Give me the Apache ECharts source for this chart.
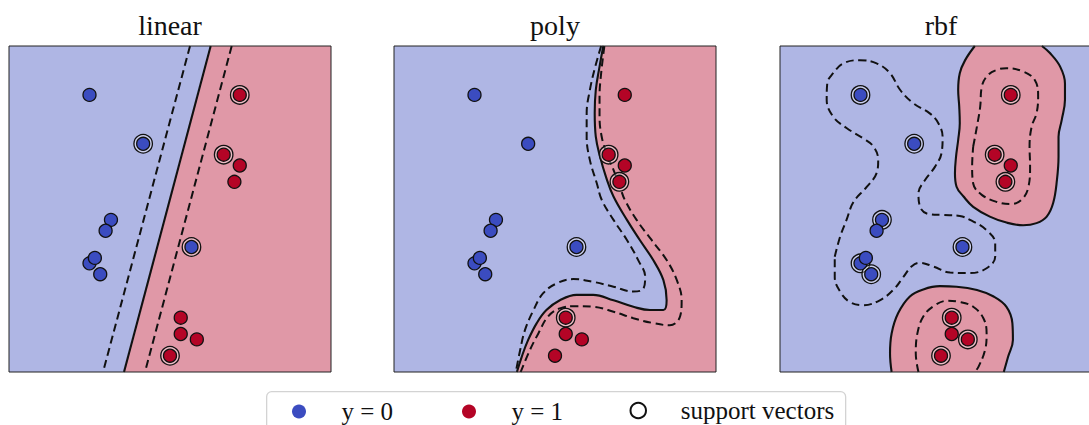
<!DOCTYPE html>
<html>
<head>
<meta charset="utf-8">
<script src="https://cdn.jsdelivr.net/npm/echarts@6/dist/echarts.min.js"></script>
<style>
html,body{margin:0;padding:0;background:#fff;}
#chart{width:1089px;height:425px;}
</style>
</head>
<body>
<div id="chart"></div>
<script>
// ---------- data ----------
const kernels = ['linear', 'poly', 'rbf'];
const class0 = [[0.4,-0.7],[-1.5,-1.0],[-1.4,-0.9],[-1.3,-1.2],[-1.1,-0.2],[-1.2,-0.4],[-0.5,1.2],[-1.5,2.1]];
const class1 = [[1.0,1.0],[1.3,0.8],[1.2,0.5],[0.2,-2.0],[0.5,-2.4],[0.2,-2.3],[0.0,-2.7],[1.3,2.1]];
const svLinear = [[-0.5,1.2],[0.4,-0.7],[1.3,2.1],[1.0,1.0],[0.0,-2.7]];
const svPoly = [[0.4,-0.7],[1.0,1.0],[1.2,0.5],[0.2,-2.0]];
const svRbf = [[-1.5,2.1],[-0.5,1.2],[-1.1,-0.2],[-1.5,-1.0],[-1.3,-1.2],[0.4,-0.7],
               [1.3,2.1],[1.0,1.0],[1.2,0.5],[0.2,-2.0],[0.5,-2.4],[0.0,-2.7]];

// decision function = 0 (solid) and = -1 / +1 (dashed)
const linSolid = [[0.758,3],[-0.857,-3]];
const linDashA = [[0.373,3],[-1.248,-3]];
const linDashB = [[1.150,3],[-0.466,-3]];

const polySolid = [[0.90,3.00],[0.83,2.62],[0.76,2.19],[0.74,1.76],[0.76,1.33],[0.84,0.96],[0.95,0.59],[1.09,0.23],[1.34,-0.20],[1.58,-0.57],[1.83,-0.94],[2.02,-1.31],[2.08,-1.68],[2.02,-1.86],[1.77,-1.86],[1.46,-1.80],[1.09,-1.68],[0.71,-1.58],[0.40,-1.58],[0.09,-1.68],[-0.16,-1.86],[-0.34,-2.10],[-0.50,-2.41],[-0.62,-2.72],[-0.71,-3.00]];
const polyDashA = [[0.86,3.00],[0.75,2.62],[0.65,2.19],[0.59,1.76],[0.59,1.33],[0.65,0.90],[0.78,0.47],[0.87,0.17],[1.09,-0.20],[1.34,-0.57],[1.55,-0.94],[1.68,-1.25],[1.65,-1.46],[1.46,-1.52],[1.09,-1.43],[0.71,-1.34],[0.34,-1.29],[0.03,-1.37],[-0.22,-1.55],[-0.40,-1.86],[-0.56,-2.23],[-0.65,-2.60],[-0.73,-3.00]];
const polyDashB = [[0.92,3.00],[0.86,2.50],[0.83,2.07],[0.83,1.70],[0.87,1.33],[0.96,1.03],[1.09,0.72],[1.21,0.41],[1.30,0.17],[1.52,-0.20],[1.80,-0.57],[2.08,-0.94],[2.27,-1.31],[2.36,-1.68],[2.33,-1.98],[2.14,-2.14],[1.83,-2.10],[1.46,-2.01],[1.09,-1.89],[0.71,-1.80],[0.40,-1.79],[0.09,-1.83],[-0.13,-1.98],[-0.31,-2.29],[-0.47,-2.60],[-0.64,-3.00]];

const rbfTopSolid = [[0.63,3.00],[0.45,2.74],[0.35,2.50],[0.32,2.19],[0.34,1.88],[0.35,1.58],[0.32,1.27],[0.28,0.96],[0.26,0.66],[0.29,0.41],[0.42,0.23],[0.60,0.04],[0.91,-0.14],[1.22,-0.25],[1.53,-0.30],[1.78,-0.26],[1.97,-0.14],[2.09,0.11],[2.16,0.53],[2.19,0.96],[2.19,1.33],[2.25,1.64],[2.31,2.01],[2.31,2.31],[2.22,2.62],[2.03,2.87],[1.88,3.00]];
const rbfTopDash = [[0.60,1.15],[0.67,1.52],[0.73,1.88],[0.76,2.25],[0.88,2.47],[1.07,2.57],[1.22,2.59],[1.53,2.53],[1.75,2.37],[1.81,2.07],[1.78,1.76],[1.69,1.52],[1.65,1.15],[1.66,0.78],[1.63,0.41],[1.50,0.17],[1.29,0.09],[1.04,0.13],[0.76,0.26],[0.60,0.47],[0.58,0.78],[0.60,1.15]];
const rbfBotSolid = [[-0.92,-3.00],[-0.95,-2.66],[-0.92,-2.29],[-0.80,-1.92],[-0.58,-1.61],[-0.33,-1.48],[-0.02,-1.42],[0.29,-1.43],[0.67,-1.49],[0.98,-1.61],[1.22,-1.80],[1.33,-2.10],[1.34,-2.41],[1.25,-2.72],[1.17,-3.00]];
const rbfBotDash = [[-0.42,-3.00],[-0.47,-2.66],[-0.44,-2.29],[-0.33,-1.98],[-0.14,-1.79],[0.11,-1.69],[0.35,-1.71],[0.60,-1.80],[0.79,-2.01],[0.85,-2.29],[0.82,-2.60],[0.70,-2.90],[0.63,-3.00]];
const rbfBlueDash = [[-1.98,-0.88],[-1.88,-0.51],[-1.76,-0.20],[-1.63,0.13],[-1.38,0.41],[-1.20,0.66],[-1.17,0.90],[-1.26,1.15],[-1.45,1.30],[-1.76,1.49],[-2.01,1.70],[-2.13,2.01],[-2.12,2.31],[-2.01,2.50],[-1.82,2.68],[-1.51,2.74],[-1.20,2.68],[-0.95,2.50],[-0.76,2.19],[-0.52,1.95],[-0.21,1.76],[-0.05,1.58],[0.03,1.33],[0.01,1.03],[-0.11,0.78],[-0.30,0.53],[-0.42,0.29],[-0.39,0.04],[-0.24,-0.09],[0.04,-0.11],[0.35,-0.13],[0.54,-0.20],[0.85,-0.39],[1.01,-0.63],[1.01,-0.88],[0.85,-1.09],[0.54,-1.18],[0.17,-1.17],[-0.14,-1.06],[-0.39,-0.99],[-0.55,-1.06],[-0.70,-1.25],[-0.89,-1.49],[-1.14,-1.68],[-1.45,-1.77],[-1.70,-1.71],[-1.88,-1.52],[-1.98,-1.25],[-1.98,-0.88]];

// ---------- style ----------
const FONT = "'Liberation Serif','DejaVu Serif',serif";
const BLUE = '#3B4CC0', RED = '#B40426';
const BG_BLUE = '#AFB6E4', BG_RED = '#E098A7';
const gridLefts = [9, 394, 780];
const SMOOTH = 0.4;

const fullSquare = [[-3,-3],[3,-3],[3,3],[-3,3]];
const redRegions = [
  [[...linSolid, [3,-3], [3,3]]],
  [[...polySolid, [-0.78,-3.4], [3.4,-3.4], [3.4,3.4], [0.95,3.4]]],
  [[...rbfTopSolid, [1.95,3.4], [0.6,3.4]], [...rbfBotSolid, [1.2,-3.4], [-0.93,-3.4]]]
];
const solidLines = [[linSolid], [polySolid], [rbfTopSolid, rbfBotSolid]];
const dashLines = [[linDashA, linDashB], [polyDashA, polyDashB], [rbfTopDash, rbfBotDash, rbfBlueDash]];
const svSets = [svLinear, svPoly, svRbf];

function polyRender(pts, color, smooth) {
  return function (params, api) {
    if (params.dataIndex !== 0) return null;
    const points = pts.map(p => api.coord(p));
    return { type: 'polygon', shape: { points: points, smooth: smooth }, style: { fill: color }, silent: true };
  };
}

const grids = [], xAxes = [], yAxes = [], series = [], titles = [];
kernels.forEach((k, i) => {
  grids.push({ left: gridLefts[i], top: 46, width: 322, height: 326, show: true,
    outerBoundsMode: 'none', containLabel: false,
    backgroundColor: 'rgba(0,0,0,0)', borderColor: '#222', borderWidth: 1, z: 10 });
  xAxes.push({ type: 'value', gridIndex: i, min: -3, max: 3, show: false });
  yAxes.push({ type: 'value', gridIndex: i, min: -3, max: 3, show: false });
  titles.push({ text: k, left: gridLefts[i] + 161, top: 11, textAlign: 'center', padding: 0,
    textStyle: { fontFamily: FONT, fontSize: 28, fontWeight: 'normal', color: '#111' } });

  series.push({ type: 'custom', xAxisIndex: i, yAxisIndex: i, data: fullSquare, clip: true, z: 1, silent: true,
    renderItem: polyRender(fullSquare, BG_BLUE, 0) });
  redRegions[i].forEach(reg => {
    series.push({ type: 'custom', xAxisIndex: i, yAxisIndex: i, data: reg, clip: true, z: 1.5, silent: true,
      renderItem: polyRender(reg, BG_RED, i === 0 ? 0 : SMOOTH) });
  });
  solidLines[i].forEach(l => {
    series.push({ type: 'line', xAxisIndex: i, yAxisIndex: i, data: l, smooth: i === 0 ? false : SMOOTH,
      symbol: 'none', clip: true, z: 3, silent: true, lineStyle: { color: '#111', width: 2.1, type: 'solid' } });
  });
  dashLines[i].forEach(l => {
    series.push({ type: 'line', xAxisIndex: i, yAxisIndex: i, data: l, smooth: i === 0 ? false : SMOOTH,
      symbol: 'none', clip: true, z: 3, silent: true, lineStyle: { color: '#111', width: 2, type: [8, 4.5] } });
  });
  series.push({ type: 'scatter', name: 'support vectors', xAxisIndex: i, yAxisIndex: i, data: svSets[i],
    symbolSize: 18.5, z: 4, silent: true,
    itemStyle: { color: 'rgba(255,255,255,0.35)', borderColor: '#111', borderWidth: 1.3, opacity: 1 } });
  series.push({ type: 'scatter', name: 'y = 0', xAxisIndex: i, yAxisIndex: i, data: class0,
    symbolSize: 13, z: 5, silent: true,
    itemStyle: { color: BLUE, borderColor: '#111', borderWidth: 1.3, opacity: 1 } });
  series.push({ type: 'scatter', name: 'y = 1', xAxisIndex: i, yAxisIndex: i, data: class1,
    symbolSize: 13, z: 5, silent: true,
    itemStyle: { color: RED, borderColor: '#111', borderWidth: 1.3, opacity: 1 } });
});

const legendText = { fontFamily: FONT, fontSize: 25, color: '#111' };
const legends = [
  { data: [{ name: 'y = 0', itemStyle: { borderWidth: 0 } }], left: 292, top: 399, itemWidth: 75, itemHeight: 14 },
  { data: [{ name: 'y = 1', itemStyle: { borderWidth: 0 } }], left: 462, top: 399, itemWidth: 75, itemHeight: 14 },
  { data: [{ name: 'support vectors', itemStyle: { color: '#fff', borderColor: '#111', borderWidth: 2 } }], left: 629.5, top: 398, itemWidth: 75, itemHeight: 15.5 }
].map(l => Object.assign(l, { padding: 0, selectedMode: false, textStyle: legendText, z: 20 }));

const chart = echarts.init(document.getElementById('chart'), null, { renderer: 'svg' });
chart.setOption({
  animation: false,
  backgroundColor: '#fff',
  title: titles,
  grid: grids,
  xAxis: xAxes,
  yAxis: yAxes,
  legend: legends,
  graphic: [{ type: 'rect', left: 266, top: 391, z: 0, silent: true,
    shape: { width: 579, height: 60, r: 5 },
    style: { fill: '#fff', stroke: '#d3d3d3', lineWidth: 1.3 } }],
  series: series
});
</script>
</body>
</html>
